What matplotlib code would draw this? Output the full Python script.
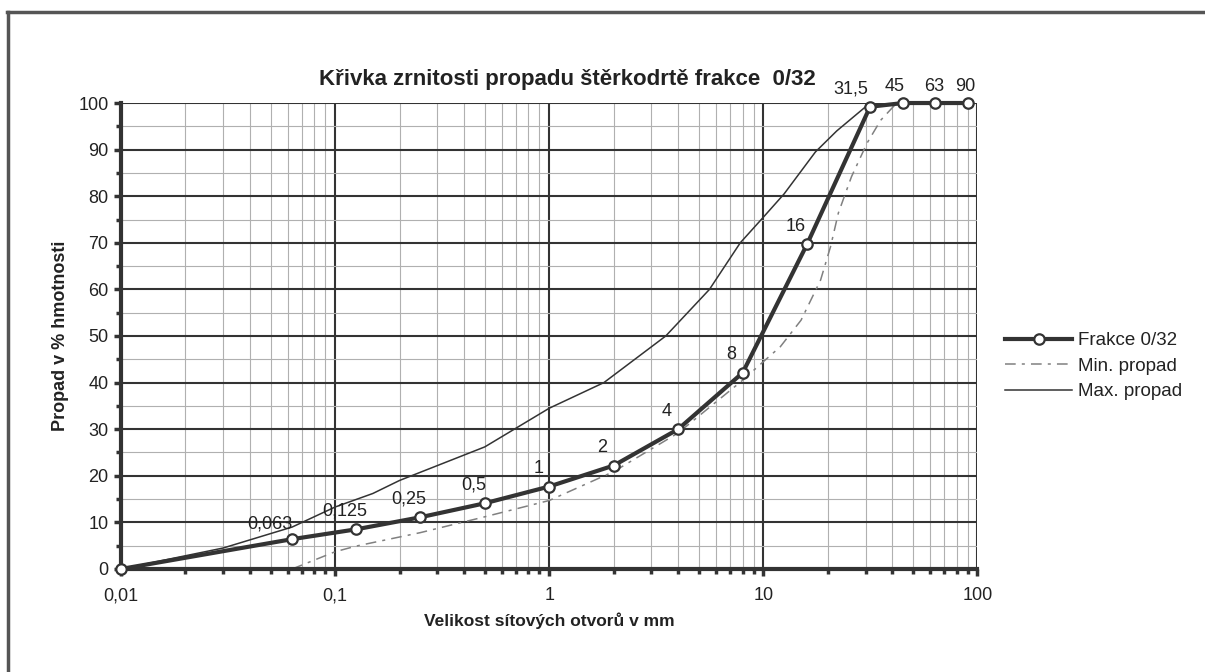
import numpy as np
import matplotlib.pyplot as plt
from matplotlib.lines import Line2D
from matplotlib.ticker import FixedLocator, NullFormatter

plt.rcParams["font.family"] = ["Liberation Sans", "DejaVu Sans"]

# Frakce 0/32 - sieve sizes (mm) and passing (%)
sieve = [0.01, 0.063, 0.125, 0.25, 0.5, 1, 2, 4, 8, 16, 31.5, 45, 63, 90]
frakce = [0, 6.4, 8.5, 11.1, 14.1, 17.7, 22.2, 30.0, 42.1, 69.7, 99.2, 100, 100, 100]
sieve_labels = ["0,063", "0,125", "0,25", "0,5", "1", "2", "4", "8", "16",
                "31,5", "45", "63", "90"]

# lower limit curve
min_x = [0.063, 0.1, 0.125, 0.25, 0.5, 1, 2, 4, 8, 10, 12, 15, 18.5, 20.6,
         22.4, 25.8, 30.5, 35.3, 40.6, 45]
min_y = [0, 3.7, 4.9, 7.8, 11.2, 14.7, 20.9, 29.2, 40.5, 44.5, 47.7, 53.4,
         62, 69.2, 76.4, 84.2, 91.4, 96.3, 99.3, 100]

# upper limit curve
max_x = [0.01, 0.03, 0.063, 0.1, 0.15, 0.2, 0.5, 1, 1.8, 3.5, 5.6, 7.8,
         10, 12.5, 17.5, 22, 31.5]
max_y = [0, 4.5, 9.0, 13.3, 16.2, 19.0, 26.2, 34.5, 40, 50, 60, 70,
         75.5, 80.5, 89.5, 94, 100]

xticks = [0.01, 0.1, 1, 10, 100]
xtick_labels = ["0,01", "0,1", "1", "10", "100"]

DARK = "#333333"
GRID_MINOR = "#b0b0b0"
TXT = "#222222"

fig = plt.figure(figsize=(12.05, 6.72), dpi=100)
ax = fig.add_axes([0.1004, 0.1533, 0.7108, 0.6934])

ax.set_xscale("log")
ax.set_xlim(0.01, 100)
ax.set_ylim(0, 100)

# grid
ax.xaxis.set_major_locator(FixedLocator(xticks))
ax.xaxis.set_minor_locator(FixedLocator(
    [m * d for d in [0.01, 0.1, 1, 10] for m in range(2, 10)]))
ax.xaxis.set_minor_formatter(NullFormatter())
ax.set_xticklabels(xtick_labels)
ax.yaxis.set_major_locator(FixedLocator(range(0, 101, 10)))
ax.yaxis.set_minor_locator(FixedLocator(range(5, 100, 10)))

ax.grid(which="major", color=DARK, lw=1.5)
ax.grid(which="minor", color=GRID_MINOR, lw=0.8)
ax.set_axisbelow(True)

for side in ["top", "right"]:
    ax.spines[side].set_visible(False)
for side in ["left", "bottom"]:
    ax.spines[side].set_linewidth(3)
    ax.spines[side].set_color(DARK)

ax.tick_params(which="major", direction="out", length=5, width=2.5,
               color=DARK, labelsize=13, labelcolor=TXT, pad=4)
ax.tick_params(which="minor", direction="out", length=3.5, width=2.5, color=DARK)
ax.tick_params(axis="x", which="major", pad=8)

# curves
ax.plot(min_x, min_y, color="#808080", lw=1.1, dashes=(7, 4, 2, 4),
        label="Min. propad")
ax.plot(max_x, max_y, color=DARK, lw=1.1, label="Max. propad")
ax.plot(sieve, frakce, color=DARK, lw=3, marker="o", ms=7.5,
        mfc="white", mec=DARK, mew=1.6, clip_on=False, zorder=5,
        label="Frakce 0/32")

# point labels
offsets = {"0,063": (-16, 11), "31,5": (-14, 13), "45": (-6, 12),
           "63": (0, 12), "90": (-2, 12)}
for xv, yv, lab in zip(sieve[1:], frakce[1:], sieve_labels):
    dx, dy = offsets.get(lab, (-8, 13))
    ax.annotate(lab, (xv, yv), xytext=(dx, dy), textcoords="offset points",
                ha="center", va="center", fontsize=13, color=TXT, zorder=6)

# titles
fig.text(0.471, 0.881, "Křivka zrnitosti propadu štěrkodrtě frakce  0/32",
         ha="center", va="center", fontsize=16, fontweight="bold", color=TXT)
fig.text(0.05, 0.5, "Propad v % hmotnosti", rotation=90, ha="center",
         va="center", fontsize=13, fontweight="bold", color=TXT)
fig.text(0.456, 0.077, "Velikost sítových otvorů v mm", ha="center",
         va="center", fontsize=12.5, fontweight="bold", color=TXT)

# legend
handles = [
    Line2D([], [], color=DARK, lw=3, marker="o", ms=7.5, mfc="white",
           mec=DARK, mew=1.6),
    Line2D([], [], color="#808080", lw=1.1, dashes=(7, 4, 2, 4)),
    Line2D([], [], color=DARK, lw=1.1),
]
fig.legend(handles, ["Frakce 0/32", "Min. propad", "Max. propad"],
           loc="upper left", bbox_to_anchor=(0.820, 0.531), frameon=False,
           fontsize=13.5, handlelength=3.6, handletextpad=0.27,
           labelspacing=0.45, numpoints=1, labelcolor=TXT)

# outer frame (top and left edge of the scanned sheet)
fig.add_artist(Line2D([0.006, 1.0], [0.982, 0.982], transform=fig.transFigure,
                      color="#555555", lw=2.5))
fig.add_artist(Line2D([0.007, 0.007], [0.0, 0.982], transform=fig.transFigure,
                      color="#555555", lw=2.5))

fig.savefig("out.png", dpi=100)
